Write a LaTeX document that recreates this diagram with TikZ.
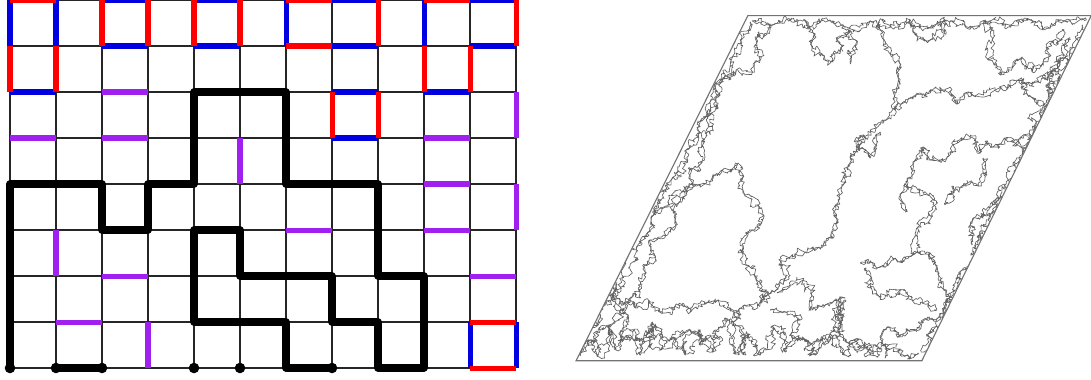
\documentclass[tikz,border=0pt]{standalone}
\usepackage{xcolor}
\usepackage{tikz}
\usetikzlibrary{decorations.pathmorphing}
\definecolor{bondred}{RGB}{255,0,0}
\definecolor{bondblue}{RGB}{0,0,225}
\definecolor{bondpurple}{RGB}{160,32,240}
\tikzset{
  lattice/.style={line width=0.8pt, draw=black!85},
  redbond/.style={line width=3.1pt, draw=bondred},
  bluebond/.style={line width=3.1pt, draw=bondblue},
  purplebond/.style={line width=3.1pt, draw=bondpurple},
  loopline/.style={line width=4.4pt, draw=black, line join=round, line cap=round},
  endpoint/.style={circle, fill=black, inner sep=0pt, minimum size=0.23cm},
  rim/.style={line width=0.7pt, draw=black!55},
  hull/.style={line width=0.4pt, draw=black!62, line join=round},
}
% three levels of random steps give the crinkled hull
\newcommand{\crinkle}[1]{decorate[decoration={random steps, segment length=1.2pt, amplitude=1.5pt}]{decorate[decoration={random steps, segment length=4pt, amplitude=3.4pt}]{decorate[decoration={random steps, segment length=11pt, amplitude=7pt}]{#1}}}}
\newcommand{\hullpath}[1]{\draw[hull] \crinkle{#1}; \draw[hull] \crinkle{#1};}

\begin{document}
\begin{tikzpicture}
  \useasboundingbox (-0.2174,-0.239) rectangle (23.5,8.0);

  % Lattice
  \draw[lattice] (0,0) grid (11,8);

  % Purple bonds
  \foreach \i/\j in {2/6, 0/5, 2/5, 9/5, 9/4, 6/3, 9/3, 2/2, 10/2, 1/1}
    \draw[purplebond] (\i,\j) -- ++(1,0);
  \foreach \i/\j in {5/4, 11/5, 11/3, 1/2, 3/0}
    \draw[purplebond] (\i,\j) -- ++(0,1);

  % Blue bonds
  \foreach \i/\j in {2/8, 2/7, 4/8, 4/7, 7/8, 7/7, 10/8, 10/7, 0/6, 7/6, 9/6, 7/5}
    \draw[bluebond] (\i,\j) -- ++(1,0);
  \foreach \i/\j in {0/7, 1/7, 6/7, 9/7, 10/0, 11/0}
    \draw[bluebond] (\i,\j) -- ++(0,1);

  % Red bonds
  \foreach \i/\j in {0/8, 6/8, 6/7, 9/8, 10/1, 10/0}
    \draw[redbond] (\i,\j) -- ++(1,0);
  \foreach \i/\j in {0/6, 1/6, 2/7, 3/7, 4/7, 5/7, 8/7, 11/7, 9/6, 10/6, 7/5, 8/5}
    \draw[redbond] (\i,\j) -- ++(0,1);

  % Loop
  \draw[loopline] (7,0) -- (6,0) -- (6,1) -- (4,1) -- (4,3) -- (5,3) -- (5,2)
    -- (7,2) -- (7,1) -- (8,1) -- (8,0) -- (9,0) -- (9,2) -- (8,2) -- (8,4)
    -- (6,4) -- (6,6) -- (4,6) -- (4,4) -- (3,4) -- (3,3) -- (2,3) -- (2,4)
    -- (0,4) -- (0,0);
  \draw[loopline] (1,0) -- (2,0);
  \foreach \i in {0,1,2,4,5,7}
    \node[endpoint] (end\i) at (\i,0) {};

  % Scaling limit (pixel coordinates)
  \begin{scope}[x=0.021739cm, y=-0.021739cm, shift={(-10,-368)}]
    \pgfmathsetseed{11}
    \begin{scope}
      \clip (576,360.7) -- (921.7,360.7) -- (1091,15.7) -- (747.7,15.7) -- cycle;
      % edge fuzz
      \hullpath{(583,350) -- (600,318) -- (612,295) -- (622,278) -- (636,250) -- (651,220) -- (661,200) -- (671,180) -- (686,150) -- (701,120) -- (711,100) -- (721,80) -- (731,60) -- (741,40) -- (750,22)}
      \hullpath{(588,345) -- (600,330) -- (615,322) -- (625,302) -- (640,292) -- (645,272) -- (655,256) -- (650,240) -- (665,236) -- (676,225) -- (672,210) -- (685,196) -- (690,176) -- (700,162) -- (703,142) -- (712,126) -- (706,115) -- (718,108) -- (720,95) -- (714,85) -- (726,76) -- (736,70) -- (752,72) -- (760,60) -- (755,45) -- (762,35) -- (758,22)}
      \hullpath{(580,356) -- (590,340) -- (598,355) -- (608,326) -- (616,350) -- (630,330) -- (640,355) -- (652,322) -- (660,350) -- (675,338) -- (685,355) -- (700,330) -- (712,352) -- (725,318) -- (735,354) -- (748,334) -- (760,355) -- (772,326) -- (785,352) -- (800,338) -- (815,355) -- (830,334) -- (845,355) -- (858,340) -- (870,355) -- (885,344) -- (900,355) -- (918,354)}
      \hullpath{(595,300) -- (605,284) -- (620,300) -- (635,308) -- (650,302) -- (662,312) -- (678,305) -- (690,312) -- (705,304) -- (718,300) -- (730,308) -- (740,318)}
      \hullpath{(600,270) -- (615,280) -- (612,300) -- (628,315) -- (620,335) -- (640,340) -- (655,325) -- (668,340) -- (690,330) -- (700,345) -- (720,338)}
      \hullpath{(770,310) -- (785,312) -- (800,320) -- (790,335) -- (810,345) -- (830,340) -- (842,325) -- (838,305) -- (845,298)}
      \hullpath{(845,300) -- (835,315) -- (840,335) -- (855,350) -- (870,345) -- (880,352)}
      \hullpath{(752,21) -- (772,25) -- (790,20) -- (810,27) -- (830,21) -- (850,29) -- (870,21) -- (890,27) -- (910,20) -- (930,28) -- (950,21) -- (970,29) -- (990,21) -- (1010,27) -- (1030,20) -- (1050,28) -- (1070,21) -- (1086,20)}
      \hullpath{(1082,25) -- (1070,50) -- (1058,80) -- (1046,105) -- (1033,130) -- (1023,150) -- (1008,180) -- (998,200) -- (988,220) -- (975,245) -- (963,270) -- (953,290) -- (943,310) -- (933,330) -- (924,352)}
      \hullpath{(1070,40) -- (1058,62) -- (1048,76) -- (1052,96) -- (1040,112) -- (1045,130) -- (1030,142) -- (1020,160) -- (1025,176) -- (1010,188) -- (995,200) -- (985,215) -- (970,225) -- (972,245)}
      % interior arcs
      \hullpath{(655,215) -- (668,205) -- (682,192) -- (700,186) -- (712,178) -- (722,170) -- (737,164) -- (742,180) -- (745,195) -- (758,205) -- (764,216) -- (752,230) -- (743,246) -- (746,265) -- (756,280) -- (768,292) -- (760,302) -- (746,306) -- (736,320) -- (742,340) -- (746,355)}
      \hullpath{(760,302) -- (776,290) -- (781,262) -- (795,256) -- (805,252) -- (823,246) -- (833,238) -- (836,218) -- (838,200) -- (843,185) -- (848,165) -- (856,150) -- (863,135) -- (876,128) -- (886,120) -- (895,110) -- (905,102) -- (916,94) -- (930,90) -- (945,90) -- (960,100) -- (975,96) -- (995,90) -- (1010,86) -- (1022,80) -- (1038,82) -- (1052,72) -- (1068,56)}
      \hullpath{(777,293) -- (790,285) -- (803,280) -- (812,296) -- (810,310) -- (825,305) -- (837,300) -- (842,315) -- (838,330)}
      \hullpath{(895,110) -- (893,92) -- (898,78) -- (900,64) -- (890,54) -- (884,40) -- (878,22)}
      \hullpath{(862,136) -- (858,150) -- (870,158) -- (876,145) -- (880,132)}
      \hullpath{(805,20) -- (815,34) -- (812,48) -- (824,56) -- (832,62) -- (840,52) -- (836,38) -- (848,30) -- (855,40) -- (852,55) -- (858,62)}
      \hullpath{(905,22) -- (915,35) -- (930,40) -- (945,30) -- (940,20)}
      \hullpath{(985,20) -- (992,40) -- (988,60) -- (1000,75) -- (1012,68) -- (1022,58) -- (1032,72) -- (1042,64) -- (1046,48) -- (1058,44) -- (1064,30)}
      \hullpath{(1020,80) -- (1030,96) -- (1046,106) -- (1060,100) -- (1066,86)}
      \hullpath{(923,147) -- (930,160) -- (947,157) -- (957,141) -- (970,137) -- (980,153) -- (987,141) -- (993,147) -- (1005,140) -- (1015,146) -- (1030,136) -- (1042,134)}
      \hullpath{(983,158) -- (986,174) -- (978,186) -- (965,184) -- (952,194) -- (945,205)}
      \hullpath{(923,147) -- (915,160) -- (912,175) -- (908,188)}
      \hullpath{(860,263) -- (877,268) -- (893,260) -- (913,253) -- (930,253) -- (937,266) -- (940,280) -- (950,297) -- (943,313) -- (927,320) -- (907,330) -- (897,337) -- (887,327) -- (883,345) -- (885,358)}
      \hullpath{(913,253) -- (915,236) -- (930,216) -- (933,200) -- (920,190) -- (906,185) -- (900,196) -- (905,212)}
      \hullpath{(866,268) -- (870,288) -- (885,296) -- (900,290) -- (912,300) -- (925,306) -- (935,300)}
    \end{scope}
    \draw[rim] (576,360.7) -- (921.7,360.7) -- (1091,15.7) -- (747.7,15.7) -- cycle;
  \end{scope}
\end{tikzpicture}
\end{document}
